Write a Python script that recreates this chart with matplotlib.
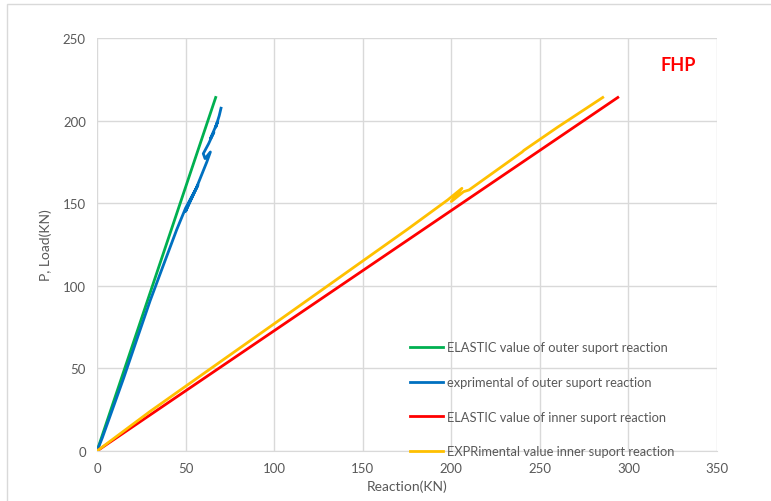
import matplotlib.pyplot as plt
from matplotlib.patches import Rectangle

plt.rcParams['font.family'] = ['Lato', 'DejaVu Sans']

# elastic (calculated) reactions
elastic_outer_x = [0, 67]
elastic_outer_p = [0, 214]
elastic_inner_x = [0, 294]
elastic_inner_p = [0, 214]

# measured reactions, outer support
exp_outer_x = [0, 3, 8, 15, 22, 30, 38, 45, 50, 53, 57, 52, 50, 53, 56, 59, 62, 64,
               61, 60, 63, 66, 64, 66, 68, 67, 69, 70]
exp_outer_p = [0, 8, 23, 44, 66, 91, 114, 134, 147, 153, 161, 150, 145, 152, 159, 167, 175, 181,
               177, 180, 186, 193, 189, 194, 199, 196, 203, 207.5]

# measured reactions, inner support
exp_inner_x = [0, 10, 30, 63, 100, 150, 175, 198, 206, 200, 207, 210, 240, 241, 260, 285.5]
exp_inner_p = [0, 8, 24, 49, 77, 115, 134, 152, 159, 151, 157, 158, 181, 182, 196, 214]

labels = ['ELASTIC value of outer suport reaction',
          'exprimental of outer suport reaction',
          'ELASTIC value of inner suport reaction',
          'EXPRimental value inner suport reaction']

fig = plt.figure(figsize=(7.71, 5.02), dpi=100)
ax = fig.add_axes([97 / 771, 1 - 452 / 502, 620 / 771, 413 / 502])

lw = 2.0
ax.plot(elastic_outer_x, elastic_outer_p, color='#00b050', lw=lw, label=labels[0])
ax.plot(exp_outer_x, exp_outer_p, color='#0070c0', lw=lw, label=labels[1])
ax.plot(elastic_inner_x, elastic_inner_p, color='#ff0000', lw=lw, label=labels[2])
ax.plot(exp_inner_x, exp_inner_p, color='#ffc000', lw=lw, label=labels[3])

ax.set_xlim(0, 350)
ax.set_ylim(0, 250)
ax.set_xticks(range(0, 351, 50))
ax.set_yticks(range(0, 251, 50))
ax.grid(True, color='#d9d9d9', lw=1)
ax.set_axisbelow(True)
for s in ['top', 'right', 'left']:
    ax.spines[s].set_visible(False)
ax.spines['bottom'].set_color('#d9d9d9')
ax.tick_params(length=0, labelsize=9.5, colors='#595959', pad=8)

ax.set_xlabel('Reaction(KN)', fontsize=10, color='#595959', labelpad=4)
ax.set_ylabel('P, Load(KN)', fontsize=10, color='#595959', labelpad=8)

ax.text(328, 234, 'FHP', color='#ff0000', fontsize=13, fontweight='bold',
        ha='center', va='center')

leg = ax.legend(loc='upper left', bbox_to_anchor=(404 / 771, 1 - 336 / 502),
                bbox_transform=fig.transFigure, frameon=False, fontsize=9.3,
                handlelength=2.5, handletextpad=0.3, labelspacing=1.75, borderpad=0)
for t in leg.get_texts():
    t.set_color('#595959')

# outer chart frame
fig.patches.append(Rectangle((7 / 771, -0.1), 1.2, 1.1 - 5 / 502, transform=fig.transFigure,
                             fill=False, edgecolor='#d9d9d9', lw=1))

fig.savefig('out.png', dpi=100)
